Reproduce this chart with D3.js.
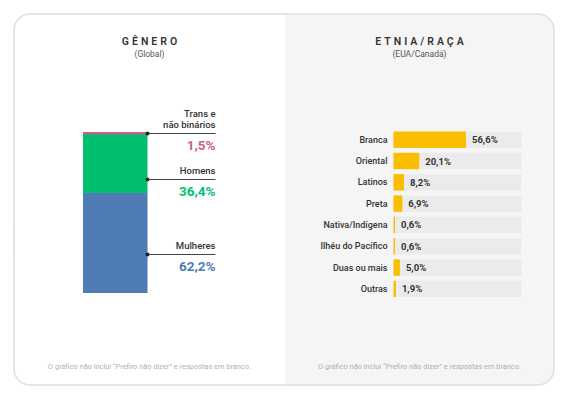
<!DOCTYPE html>
<html>
<head>
<meta charset="utf-8">
<script src="https://cdn.jsdelivr.net/npm/d3@7"></script>
<style>
  body { margin: 0; background: #fff; }
  svg { font-family: Roboto, "Noto Sans", sans-serif; }
</style>
</head>
<body>
<svg id="chart"></svg>
<script>
// gender (global), stacked top to bottom
const genderLabels = [["Trans e", "não binários"], ["Homens"], ["Mulheres"]]
const genderValues = [1.5, 36.4, 62.2]
const genderText = ["1,5%", "36,4%", "62,2%"]

// ethnicity (US/Canada)
const ethnicity = ["Branca", "Oriental", "Latinos", "Preta", "Nativa/Indígena", "Ilhéu do Pacífico", "Duas ou mais", "Outras"]
const ethnicityValues = [56.6, 20.1, 8.2, 6.9, 0.6, 0.6, 5.0, 1.9]
const ethnicityText = ["56,6%", "20,1%", "8,2%", "6,9%", "0,6%", "0,6%", "5,0%", "1,9%"]

const footnote = "O gráfico não inclui “Prefiro não dizer” e respostas em branco."

function initializeElements() {
const svgWidth = 569
const svgHeight = 400
const card = ({left: 14, top: 14, right: 554, bottom: 385, split: 285})

const svg = d3.select("#chart")
  .attr("width", svgWidth)
  .attr("height", svgHeight)

// card background: right half gray, clipped by the rounded frame
svg.append("clipPath").attr("id", "cardClip")
  .append("rect")
  .attr("x", card.left).attr("y", card.top)
  .attr("width", card.right - card.left).attr("height", card.bottom - card.top)
  .attr("rx", 16)

svg.append("rect")
  .attr("clip-path", "url(#cardClip)")
  .attr("x", card.split).attr("y", card.top)
  .attr("width", card.right - card.split).attr("height", card.bottom - card.top)
  .attr("fill", "#f5f5f5")

svg.append("rect")
  .attr("x", card.left).attr("y", card.top)
  .attr("width", card.right - card.left).attr("height", card.bottom - card.top)
  .attr("rx", 16)
  .attr("fill", "none")
  .attr("stroke", "#dedede")
  .attr("stroke-width", 1.5)

// titles + footnotes
const leftMid = (card.left + card.split) / 2
const rightMid = (card.split + card.right) / 2
const titles = [
  {x: leftMid, title: "GÊNERO", sub: "(Global)"},
  {x: rightMid, title: "ETNIA/RAÇA", sub: "(EUA/Canadá)"}
]
titles.forEach(t => {
  svg.append("text")
    .attr("x", t.x + 1.5).attr("y", 44.5)
    .attr("text-anchor", "middle")
    .attr("font-size", "10.5px")
    .attr("font-weight", 600)
    .attr("letter-spacing", "3px")
    .attr("fill", "#333")
    .text(t.title)
  svg.append("text")
    .attr("x", t.x).attr("y", 56.5)
    .attr("text-anchor", "middle")
    .attr("font-size", "8.5px")
    .attr("fill", "#555")
    .text(t.sub)
  svg.append("text")
    .attr("x", t.x).attr("y", 369)
    .attr("text-anchor", "middle")
    .attr("font-size", "7.4px")
    .attr("fill", "#b0b0b0")
    .text(footnote)
})

// ---- gender stacked bar
const genderColors = ["#c8618d", "#00bf6f", "#507cb6"]
const starts = d3.cumsum([0].concat(genderValues)).slice(0, genderValues.length)
const yGender = d3.scaleLinear()
  .domain([0, d3.sum(genderValues)])
  .range([132, 293])
const barX = 83, barW = 64.5
const leaderFrac = [0.5, 0.756, 0.61] // where each leader line meets its segment
const lineEnd = 215.5

const g = svg.append("g")
g.selectAll("rect")
  .data(genderValues)
  .join("rect")
  .attr("x", barX)
  .attr("y", (d, i) => yGender(starts[i]))
  .attr("width", barW)
  .attr("height", d => Math.max(3, yGender(d) - yGender(0)))
  .attr("fill", (d, i) => genderColors[i])

genderValues.forEach((v, i) => {
  const ly = Math.round(yGender(starts[i] + v * leaderFrac[i])) + 0.5
  g.append("line")
    .attr("x1", barX + barW).attr("x2", lineEnd)
    .attr("y1", ly).attr("y2", ly)
    .attr("stroke", "#444").attr("stroke-width", 1)
  g.append("circle")
    .attr("cx", barX + barW).attr("cy", ly).attr("r", 2)
    .attr("fill", "#222")
  const lines = genderLabels[i]
  lines.forEach((s, j) => {
    g.append("text")
      .attr("x", lineEnd).attr("y", ly - 6 - (lines.length - 1 - j) * 11)
      .attr("text-anchor", "end")
      .attr("font-size", "9.5px")
      .attr("font-weight", 500)
      .attr("fill", "#333")
      .text(s)
  })
  g.append("text")
    .attr("x", lineEnd).attr("y", ly + 16.5)
    .attr("text-anchor", "end")
    .attr("font-size", "13.5px")
    .attr("font-weight", 700)
    .attr("fill", genderColors[i])
    .text(genderText[i])
})

// ---- ethnicity bars
const xEth = d3.scaleLinear().domain([0, 100]).range([393.5, 521.5])
const yEth = d3.scaleBand()
  .domain(ethnicity)
  .range([131.5, 131.5 + 20.7 * ethnicity.length])
  .paddingInner(0.23)
  .paddingOuter(0)

const e = svg.append("g")
e.selectAll(".track")
  .data(ethnicity)
  .join("rect")
  .attr("class", "track")
  .attr("x", xEth(0))
  .attr("y", d => yEth(d))
  .attr("width", xEth(100) - xEth(0))
  .attr("height", yEth.bandwidth())
  .attr("fill", "#ebebeb")

e.selectAll(".bar")
  .data(ethnicityValues)
  .join("rect")
  .attr("class", "bar")
  .attr("x", xEth(0))
  .attr("y", (d, i) => yEth(ethnicity[i]))
  .attr("width", d => Math.max(1.5, xEth(d) - xEth(0)))
  .attr("height", yEth.bandwidth())
  .attr("fill", "#f9be00")

e.selectAll(".cat")
  .data(ethnicity)
  .join("text")
  .attr("class", "cat")
  .attr("x", 387.5)
  .attr("y", d => yEth(d) + yEth.bandwidth() / 2)
  .attr("dy", "0.35em")
  .attr("text-anchor", "end")
  .attr("font-size", "9px")
  .attr("font-weight", 500)
  .attr("fill", "#333")
  .text(d => d)

e.selectAll(".val")
  .data(ethnicityValues)
  .join("text")
  .attr("class", "val")
  .attr("x", d => Math.max(xEth(d), xEth(0) + 1.5) + 6)
  .attr("y", (d, i) => yEth(ethnicity[i]) + yEth.bandwidth() / 2)
  .attr("dy", "0.37em")
  .attr("font-size", "9.5px")
  .attr("font-weight", 700)
  .attr("fill", "#333")
  .text((d, i) => ethnicityText[i])
}

initializeElements();
</script>
</body>
</html>
